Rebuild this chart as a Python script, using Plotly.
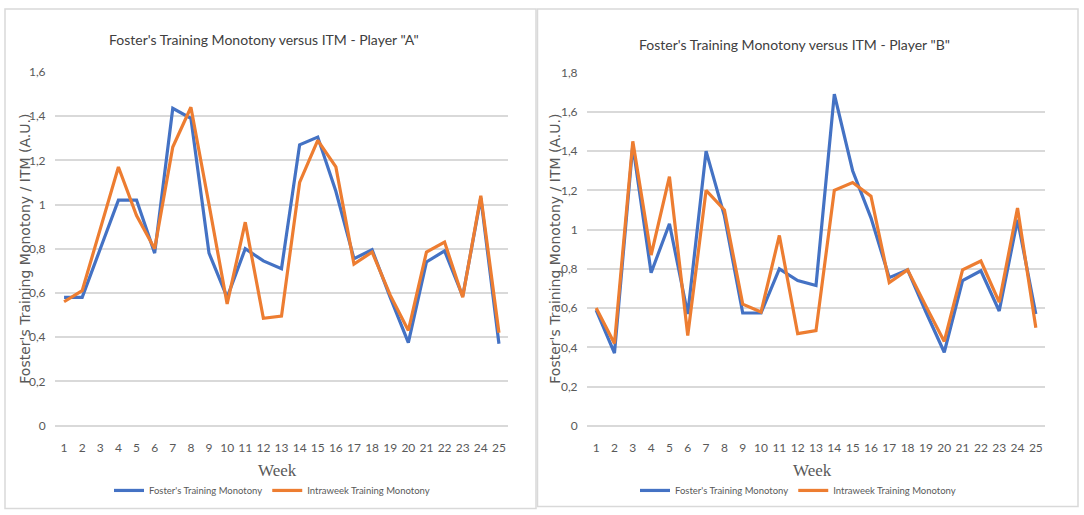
"""Foster's training monotony vs intraweek training monotony (ITM) for two players."""

import plotly.graph_objects as go
from plotly.subplots import make_subplots

weeks = list(range(1, 26))

# Player "A"
foster_a = [0.58, 0.58, 0.80, 1.02, 1.02, 0.78, 1.435, 1.39, 0.78, 0.58,
            0.80, 0.745, 0.71, 1.27, 1.305, 1.06, 0.755, 0.795, 0.58, 0.375,
            0.74, 0.79, 0.585, 1.03, 0.37]
itm_a = [0.56, 0.61, 0.89, 1.17, 0.95, 0.80, 1.26, 1.44, 1.00, 0.55,
         0.92, 0.485, 0.495, 1.10, 1.29, 1.17, 0.73, 0.785, 0.59, 0.43,
         0.785, 0.83, 0.58, 1.04, 0.42]

# Player "B"
foster_b = [0.59, 0.37, 1.43, 0.78, 1.03, 0.57, 1.40, 1.07, 0.575, 0.575,
            0.80, 0.74, 0.715, 1.69, 1.30, 1.06, 0.755, 0.795, 0.58, 0.375,
            0.74, 0.79, 0.585, 1.05, 0.57]
itm_b = [0.60, 0.42, 1.45, 0.87, 1.27, 0.46, 1.20, 1.10, 0.62, 0.58,
         0.97, 0.47, 0.485, 1.20, 1.24, 1.17, 0.73, 0.795, 0.61, 0.43,
         0.795, 0.84, 0.63, 1.11, 0.50]

BLUE = "#4472C4"
ORANGE = "#ED7D31"
GRID = "#d9d9d9"
TXT = "#595959"
SANS = "Lato, Liberation Sans, Arial"

W, H = 1084, 515


def fy(px):
    # screen y (px from top) -> paper y; the page shows the figure a bit squeezed
    return 1 - ((px - 7) / 0.972) / H


fig = make_subplots(rows=1, cols=2)

series = [
    (foster_a, "Foster's Training Monotony", BLUE, 1, "legend"),
    (itm_a, "Intraweek Training Monotony", ORANGE, 1, "legend"),
    (foster_b, "Foster's Training Monotony", BLUE, 2, "legend2"),
    (itm_b, "Intraweek Training Monotony", ORANGE, 2, "legend2"),
]
for vals, name, color, col, leg in series:
    fig.add_trace(
        go.Scatter(x=weeks, y=vals, name=name, mode="lines",
                   line=dict(color=color, width=3.2), legend=leg),
        row=1, col=col,
    )

# axes, placed by pixel to follow the reference layout
fig.update_xaxes(domain=[55 / W, 508 / W], row=1, col=1)
fig.update_xaxes(domain=[587 / W, 1045 / W], row=1, col=2)
fig.update_yaxes(domain=[fy(425), fy(71)], range=[0, 1.6], row=1, col=1)
fig.update_yaxes(domain=[fy(425.3), fy(71.7)], range=[0, 1.8], row=1, col=2)

fig.update_xaxes(
    range=[0.5, 25.5], tickmode="linear", dtick=1, showgrid=False, zeroline=False,
    showline=False, ticks="outside", ticklen=11, tickcolor="rgba(0,0,0,0)",
    tickfont=dict(family=SANS, size=12, color=TXT),
)
fig.update_yaxes(
    dtick=0.2, showgrid=True, gridcolor=GRID, gridwidth=1.5,
    zeroline=True, zerolinecolor=GRID, zerolinewidth=1.5,
    ticks="outside", ticklen=6, tickcolor="rgba(0,0,0,0)",
    tickfont=dict(family=SANS, size=12, color=TXT),
)

# titles and axis titles
ann = [
    dict(text="Foster's Training Monotony versus ITM - Player \"A\"", x=264 / W, y=fy(39),
         font=dict(family=SANS, size=14, color="#404040")),
    dict(text="Foster's Training Monotony versus ITM - Player \"B\"", x=794 / W, y=fy(44),
         font=dict(family=SANS, size=14, color="#404040")),
    dict(text="Week", x=277 / W, y=fy(470),
         font=dict(family="Liberation Serif, Times New Roman", size=17, color=TXT)),
    dict(text="Week", x=812 / W, y=fy(470),
         font=dict(family="Liberation Serif, Times New Roman", size=17, color=TXT)),
    dict(text="Foster's Training Monotony / ITM (A.U.)", x=25 / W, y=fy(248), textangle=-90,
         font=dict(family="DejaVu Sans", size=14, color=TXT)),
    dict(text="Foster's Training Monotony / ITM (A.U.)", x=555 / W, y=fy(248), textangle=-90,
         font=dict(family="DejaVu Sans", size=14, color=TXT)),
]
for a in ann:
    fig.add_annotation(xref="paper", yref="paper", showarrow=False,
                       xanchor="center", yanchor="middle", **a)

# panel borders
for x0, x1, y1 in [(5, 536, 508), (537.5, 1078, 506)]:
    fig.add_shape(type="rect", xref="paper", yref="paper",
                  x0=x0 / W, x1=x1 / W, y0=fy(y1), y1=min(fy(5), 1 - 1 / H),
                  line=dict(color=GRID, width=1.5), layer="below")

leg_style = dict(orientation="h", xanchor="center", yanchor="middle", y=fy(490),
                 font=dict(family=SANS, size=9.5, color=TXT), bgcolor="rgba(0,0,0,0)",
                 itemwidth=30, tracegroupgap=0)

fig.update_layout(
    width=W, height=H,
    margin=dict(l=0, r=0, t=0, b=0),
    paper_bgcolor="white", plot_bgcolor="white",
    separators=",.",
    legend=dict(x=272 / W, **leg_style),
    legend2=dict(x=798 / W, **leg_style),
)

fig.write_html(
    "out.html",
    config={"displayModeBar": False},
    post_script=(
        "document.body.style.margin='0';"
        "document.body.style.overflow='hidden';"
        "document.documentElement.style.overflow='hidden';"
    ),
)
